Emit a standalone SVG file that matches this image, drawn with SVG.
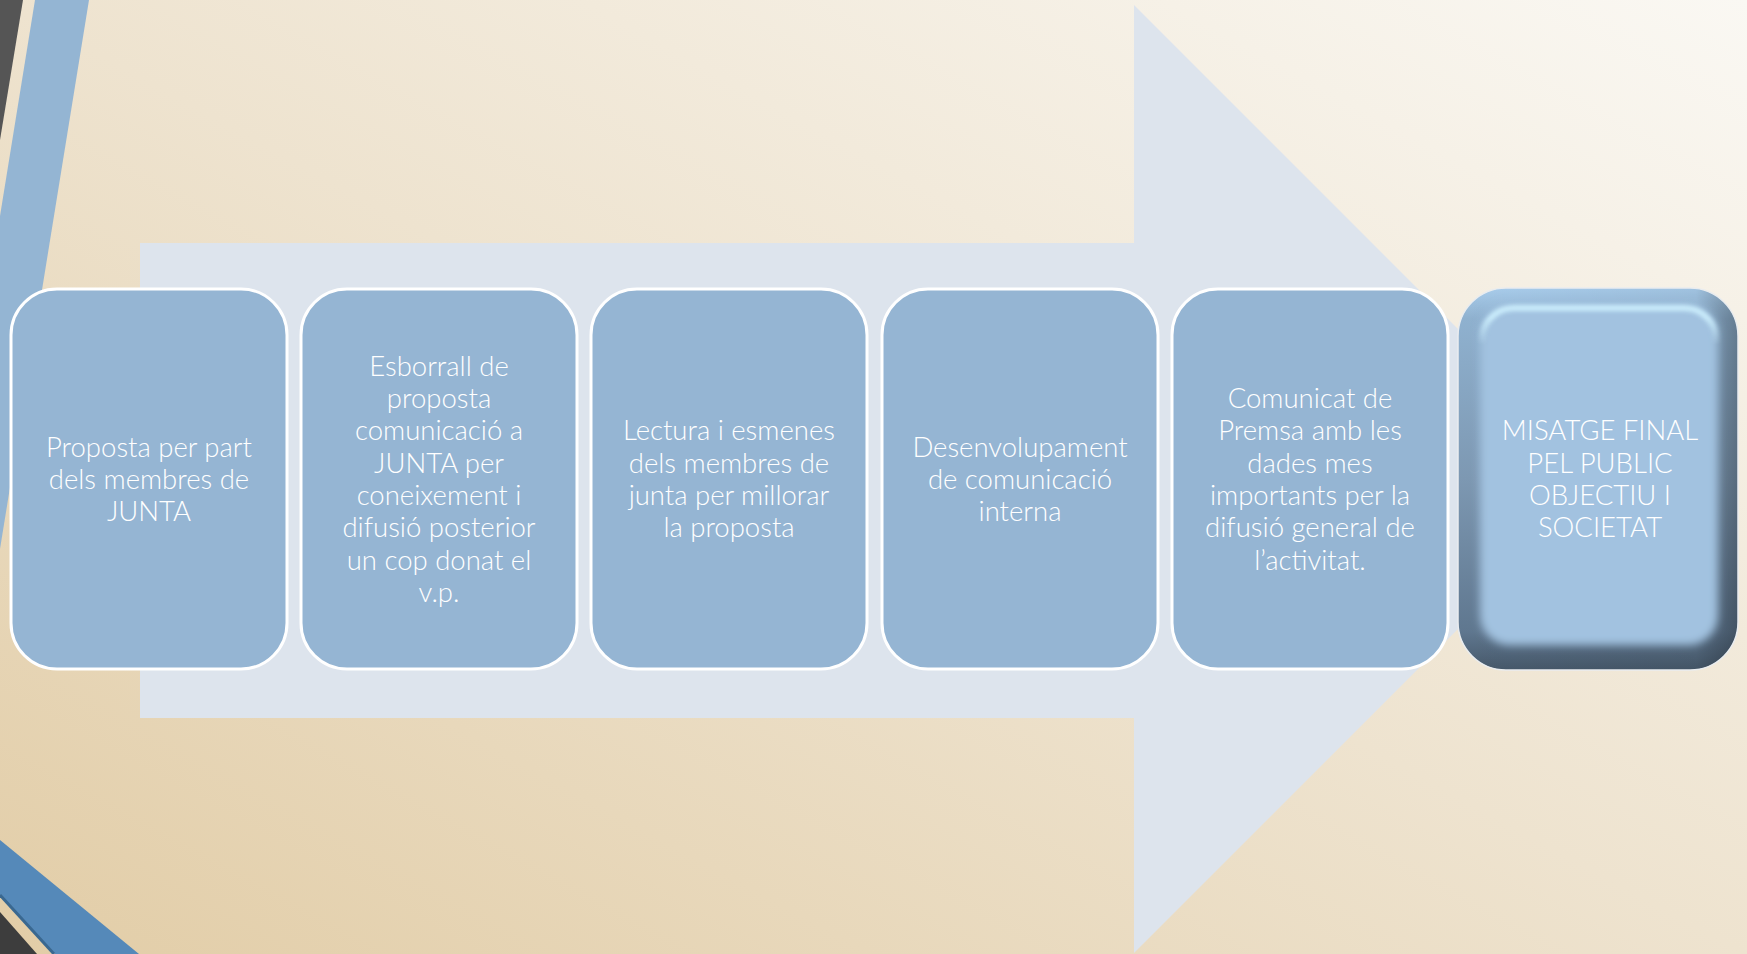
<svg xmlns="http://www.w3.org/2000/svg" width="1747" height="954" viewBox="0 0 1747 954">
  <defs>
    <linearGradient id="bg" x1="1" y1="0" x2="0" y2="1">
      <stop offset="0" stop-color="#faf8f3"/>
      <stop offset="0.5" stop-color="#eee3cf"/>
      <stop offset="1" stop-color="#e2cda7"/>
    </linearGradient>
    <linearGradient id="bevelV" x1="0" y1="0" x2="0" y2="1">
      <stop offset="0" stop-color="#a9cdec"/>
      <stop offset="0.08" stop-color="#8fb1cf"/>
      <stop offset="0.5" stop-color="#7d98b2"/>
      <stop offset="0.9" stop-color="#5f778f"/>
      <stop offset="1" stop-color="#46586a"/>
    </linearGradient>
    <linearGradient id="bevelH" x1="0" y1="0" x2="1" y2="0">
      <stop offset="0" stop-color="#000000" stop-opacity="0"/>
      <stop offset="0.85" stop-color="#000000" stop-opacity="0.05"/>
      <stop offset="1" stop-color="#000000" stop-opacity="0.3"/>
    </linearGradient>
    <linearGradient id="fadeHl" gradientUnits="userSpaceOnUse" x1="0" y1="300" x2="0" y2="345">
      <stop offset="0" stop-color="#ffffff"/>
      <stop offset="0.4" stop-color="#ffffff"/>
      <stop offset="1" stop-color="#000000"/>
    </linearGradient>
    <mask id="maskHl" maskUnits="userSpaceOnUse" x="1458" y="288" width="280" height="382">
      <rect x="1458" y="288" width="280" height="382" fill="url(#fadeHl)"/>
    </mask>
    <filter id="blur4" x="-20%" y="-20%" width="140%" height="140%">
      <feGaussianBlur stdDeviation="4"/>
    </filter>
    <filter id="blur2" x="-20%" y="-50%" width="140%" height="200%">
      <feGaussianBlur stdDeviation="2"/>
    </filter>
    <clipPath id="clip6">
      <rect x="1458" y="288" width="280" height="382" rx="48"/>
    </clipPath>
  </defs>
  <style>
    .box { fill: #95b5d3; stroke: #ffffff; stroke-width: 3; }
    .lbl { font-family: Lato, "Open Sans", sans-serif; font-weight: 300; font-size: 27.5px; fill: #ffffff; text-anchor: middle; }
  </style>

  <g id="background">
    <rect x="0" y="0" width="1747" height="954" fill="url(#bg)"/>
    <polygon points="0,0 23,0 0,140" fill="#555555"/>
    <polygon points="35,0 89,0 0,549 0,216" fill="#94b5d3"/>
    <polygon points="0,840 139,954 55,954 0,895" fill="#5589b9"/>
    <line x1="0" y1="895" x2="54" y2="954" stroke="#3a6890" stroke-width="3"/>
    <polygon points="0,912 37,954 0,954" fill="#3d3d3d"/>
  </g>

  <g id="arrow">
    <polygon points="140,243 1134,243 1134,5 1608,479 1134,953 1134,718 140,718" fill="#dde4ed"/>
  </g>

  <g id="node1">
    <rect class="box" x="11" y="289" width="276" height="380" rx="46"/>
    <text class="lbl"><tspan x="149" y="457">Proposta per part</tspan><tspan x="149" y="489">dels membres de</tspan><tspan x="149" y="521">JUNTA</tspan></text>
  </g>

  <g id="node2">
    <rect class="box" x="301" y="289" width="276" height="380" rx="46"/>
    <text class="lbl"><tspan x="439" y="376">Esborrall de</tspan><tspan x="439" y="408">proposta</tspan><tspan x="439" y="440">comunicació a</tspan><tspan x="439" y="473">JUNTA per</tspan><tspan x="439" y="505">coneixement i</tspan><tspan x="439" y="537">difusió posterior</tspan><tspan x="439" y="570">un cop donat el</tspan><tspan x="439" y="602">v.p.</tspan></text>
  </g>

  <g id="node3">
    <rect class="box" x="591" y="289" width="276" height="380" rx="46"/>
    <text class="lbl"><tspan x="729" y="440">Lectura i esmenes</tspan><tspan x="729" y="473">dels membres de</tspan><tspan x="729" y="505">junta per millorar</tspan><tspan x="729" y="537">la proposta</tspan></text>
  </g>

  <g id="node4">
    <rect class="box" x="882" y="289" width="276" height="380" rx="46"/>
    <text class="lbl"><tspan x="1020" y="457">Desenvolupament</tspan><tspan x="1020" y="489">de comunicació</tspan><tspan x="1020" y="521">interna</tspan></text>
  </g>

  <g id="node5">
    <rect class="box" x="1172" y="289" width="276" height="380" rx="46"/>
    <text class="lbl"><tspan x="1310" y="408">Comunicat de</tspan><tspan x="1310" y="440">Premsa amb les</tspan><tspan x="1310" y="473">dades mes</tspan><tspan x="1310" y="505">importants per la</tspan><tspan x="1310" y="537">difusió general de</tspan><tspan x="1310" y="570">l’activitat.</tspan></text>
  </g>

  <g id="node6">
    <rect x="1458" y="288" width="280" height="382" rx="48" fill="url(#bevelV)"/>
    <rect x="1458" y="288" width="280" height="382" rx="48" fill="url(#bevelH)"/>
    <g clip-path="url(#clip6)">
      <rect x="1480" y="304" width="238" height="341" rx="30" fill="#a2c2e0" filter="url(#blur4)"/>
      <g mask="url(#maskHl)">
        <rect x="1482" y="308" width="234" height="120" rx="32" fill="none" stroke="#cbedfc" stroke-width="6" filter="url(#blur2)"/>
      </g>
    </g>
    <rect x="1458" y="288" width="280" height="382" rx="48" fill="none" stroke="#e9ecef" stroke-width="1.5"/>
    <text class="lbl"><tspan x="1600" y="440">MISATGE FINAL</tspan><tspan x="1600" y="473">PEL PUBLIC</tspan><tspan x="1600" y="505">OBJECTIU I</tspan><tspan x="1600" y="537">SOCIETAT</tspan></text>
  </g>
</svg>
